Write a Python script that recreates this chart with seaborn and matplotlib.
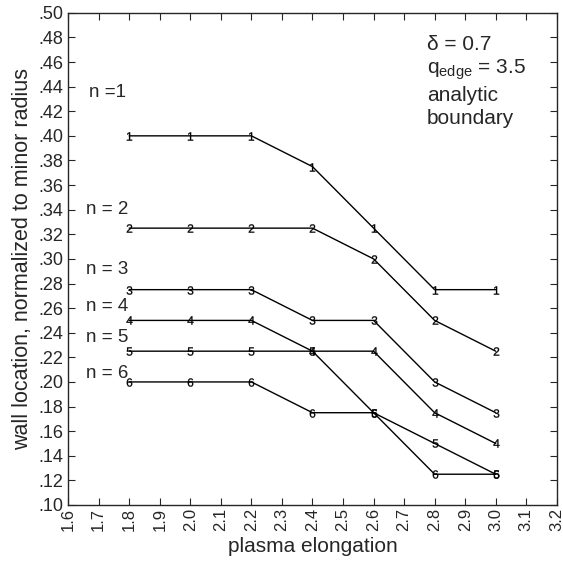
import numpy as np
import pandas as pd
import seaborn as sns
import matplotlib.pyplot as plt

# data
elongation = [1.8, 2.0, 2.2, 2.4, 2.6, 2.8, 3.0]
wall_n1 = [0.400, 0.400, 0.400, 0.375, 0.325, 0.275, 0.275]
wall_n2 = [0.325, 0.325, 0.325, 0.325, 0.300, 0.250, 0.225]
wall_n3 = [0.275, 0.275, 0.275, 0.250, 0.250, 0.200, 0.175]
wall_n4 = [0.250, 0.250, 0.250, 0.225, 0.225, 0.175, 0.150]
wall_n5 = [0.225, 0.225, 0.225, 0.225, 0.175, 0.150, 0.125]
wall_n6 = [0.200, 0.200, 0.200, 0.175, 0.175, 0.125, 0.125]
mode_names = ["n =1", "n = 2", "n = 3", "n = 4", "n = 5", "n = 6"]
name_pos = [(1.669, 0.435), (1.66, 0.340), (1.66, 0.291),
            (1.66, 0.261), (1.66, 0.236), (1.66, 0.207)]

series = [wall_n1, wall_n2, wall_n3, wall_n4, wall_n5, wall_n6]
df = pd.DataFrame({
    "x": elongation * 6,
    "y": sum(series, []),
    "n": np.repeat(np.arange(1, 7), len(elongation)),
})

sns.set_style("ticks")
plt.rcParams['font.family'] = ['Liberation Sans', 'DejaVu Sans']
plt.rcParams['mathtext.fontset'] = 'custom'
plt.rcParams['mathtext.rm'] = 'Liberation Sans'
plt.rcParams['mathtext.it'] = 'Liberation Sans:italic'

fig = plt.figure(figsize=(5.63, 5.69), dpi=100)
ax = fig.add_axes([0.121, 0.1125, 0.868, 0.865])

sns.lineplot(data=df, x="x", y="y", hue="n", style="n",
             palette={k: "black" for k in range(1, 7)},
             markers={k: f"${k}$" for k in range(1, 7)},
             dashes=False, markersize=6, linewidth=1,
             markeredgecolor="black", markerfacecolor="black",
             markeredgewidth=0.2,
             legend=False, ax=ax)

for name, (tx, ty) in zip(mode_names, name_pos):
    ax.text(tx, ty, name, fontsize=13.5, ha="left", va="center")

ax.text(2.775, 0.474, "δ = 0.7", fontsize=15, ha="left", va="center")
ax.text(2.775, 0.454, r"q$_{\rm edge}$ = 3.5", fontsize=15, ha="left", va="center")
ax.text(2.775, 0.433, "analytic", fontsize=15, ha="left", va="center")
ax.text(2.775, 0.414, "boundary", fontsize=15, ha="left", va="center")

ax.set_xlim(1.6, 3.2)
ax.set_ylim(0.10, 0.50)
xt = np.round(np.arange(1.6, 3.21, 0.1), 1)
yt = np.round(np.arange(0.10, 0.501, 0.02), 2)
ax.set_xticks(xt)
ax.set_xticklabels([f"{v:.1f}" for v in xt], rotation=90)
ax.set_yticks(yt)
ax.set_yticklabels([f"{v:.2f}"[1:] for v in yt])
ax.tick_params(direction="in", top=True, right=True, length=5)
ax.tick_params(axis="y", labelsize=13)
ax.tick_params(axis="x", labelsize=12, pad=2)
for s in ax.spines.values():
    s.set_linewidth(1)
    s.set_visible(True)

ax.set_xlabel("plasma elongation", fontsize=15, labelpad=4)
ax.set_ylabel("wall location, normalized to minor radius", fontsize=15.5, labelpad=4)

fig.savefig("out.png", dpi=100)
